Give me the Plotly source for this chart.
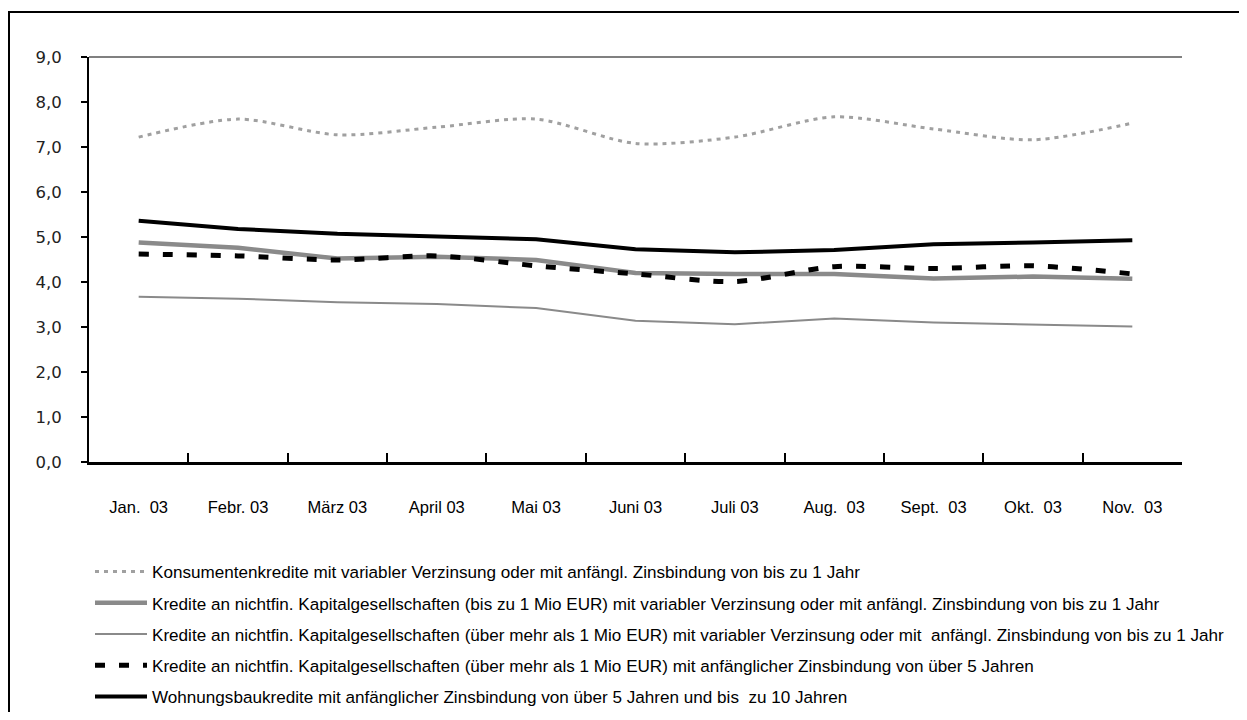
import plotly.graph_objects as go

NB = "\u00a0"
months = ["Jan." + NB + NB + "03", "Febr. 03", "März 03", "April 03", "Mai 03", "Juni 03",
          "Juli 03", "Aug." + NB + NB + "03", "Sept." + NB + NB + "03", "Okt." + NB + NB + "03",
          "Nov." + NB + NB + "03"]

konsum = [7.22, 7.62, 7.27, 7.44, 7.62, 7.08, 7.22, 7.67, 7.40, 7.16, 7.53]
kap_bis1 = [4.88, 4.76, 4.52, 4.56, 4.49, 4.20, 4.18, 4.18, 4.08, 4.12, 4.07]
kap_ueber1_var = [3.67, 3.63, 3.55, 3.51, 3.42, 3.14, 3.06, 3.19, 3.10, 3.05, 3.01]
kap_ueber1_fix = [4.62, 4.58, 4.49, 4.58, 4.36, 4.18, 4.01, 4.34, 4.30, 4.36, 4.18]
wohnbau = [5.36, 5.18, 5.07, 5.02, 4.95, 4.73, 4.66, 4.71, 4.84, 4.88, 4.93]

names = [
    "Konsumentenkredite mit variabler Verzinsung oder mit anfängl. Zinsbindung von bis zu 1 Jahr",
    "Kredite an nichtfin. Kapitalgesellschaften (bis zu 1 Mio EUR) mit variabler Verzinsung oder mit anfängl. Zinsbindung von bis zu 1 Jahr",
    "Kredite an nichtfin. Kapitalgesellschaften (über mehr als 1 Mio EUR) mit variabler Verzinsung oder mit  anfängl. Zinsbindung von bis zu 1 Jahr",
    "Kredite an nichtfin. Kapitalgesellschaften (über mehr als 1 Mio EUR) mit anfänglicher Zinsbindung von über 5 Jahren",
    "Wohnungsbaukredite mit anfänglicher Zinsbindung von über 5 Jahren und bis  zu 10 Jahren",
]

# page offset of the figure inside the browser page (default body margin)
OFF = 8
W, H = 1247 - OFF, 720 - 2 * OFF
L, R, T, B = 89 - OFF, 1182 - OFF, 57 - OFF, 462 - OFF
pw, ph = R - L, B - T

def px_x(x):
    return (x - OFF - L) / pw

def px_y(y):
    return (B - (y - OFF)) / ph

TXT_FONT = "Liberation Sans, Arial, sans-serif"
NUM_FONT = "DejaVu Sans, sans-serif"

fig = go.Figure()
series = [
    (konsum, dict(color="#a0a0a0", width=3, dash="4px,5px"), "spline"),
    (kap_bis1, dict(color="#8a8a8a", width=4.5), "linear"),
    (kap_ueber1_var, dict(color="#8a8a8a", width=2), "linear"),
    (kap_ueber1_fix, dict(color="#000000", width=5, dash="10px,14px"), "spline"),
    (wohnbau, dict(color="#000000", width=4), "linear"),
]
for i, (vals, line, shape) in enumerate(series):
    line = dict(line)
    line["shape"] = shape
    if shape == "spline":
        line["smoothing"] = 0.8
    fig.add_trace(go.Scatter(x=months, y=vals, mode="lines", name=names[i],
                             line=line, legendgroup=f"g{i}"))

fig.update_layout(
    width=W, height=H,
    margin=dict(l=L, r=W - R, t=T, b=H - B, autoexpand=False),
    paper_bgcolor="white", plot_bgcolor="white",
    separators=", ",
    showlegend=True,
    legend=dict(
        x=px_x(90), y=px_y(554), xanchor="left", yanchor="top",
        font=dict(family=TXT_FONT, size=17.1, color="#000"),
        tracegroupgap=6, itemwidth=52, bgcolor="rgba(0,0,0,0)",
    ),
    xaxis=dict(
        type="category", range=[-0.5, 10.5], showgrid=False,
        showline=True, linecolor="#000", linewidth=2.5,
        ticks="inside", tickson="boundaries", ticklen=9, tickwidth=2, tickcolor="#000",
        tickfont=dict(family=TXT_FONT, size=16.5, color="#000"),
        ticklabelstandoff=28,
    ),
    yaxis=dict(
        range=[0, 9], dtick=1, tickformat=".1f", showgrid=False, zeroline=False,
        showline=True, linecolor="#000", linewidth=2,
        ticks="outside", ticklen=6, tickwidth=2, tickcolor="#000",
        tickfont=dict(family=NUM_FONT, size=16.5, color="#222"),
        ticklabelstandoff=16,
    ),
    yaxis2=dict(
        overlaying="y", side="right", range=[0, 9], dtick=1, tickformat=".1f",
        showgrid=False, zeroline=False,
        showline=True, linecolor="#000", linewidth=2,
        ticks="outside", ticklen=6, tickwidth=2, tickcolor="#000",
        tickfont=dict(family=NUM_FONT, size=16.5, color="#222"),
        ticklabelstandoff=10,
    ),
    shapes=[
        dict(type="line", xref="paper", yref="paper", x0=0, x1=1, y0=1, y1=1,
             line=dict(color="#808080", width=2)),
        dict(type="rect", xref="paper", yref="paper",
             x0=px_x(9), x1=px_x(1252), y0=px_y(12), y1=px_y(726),
             line=dict(color="#000", width=2)),
    ],
)

fig.write_html("out.html")
